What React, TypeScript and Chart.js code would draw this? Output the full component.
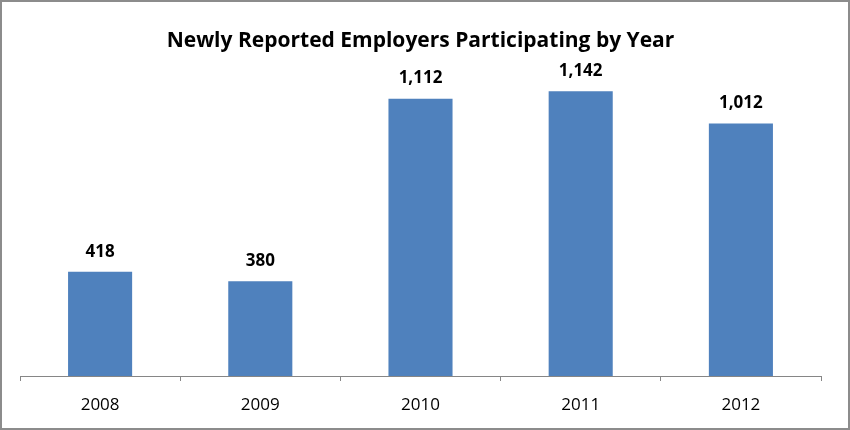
import React, { useEffect, useRef } from "react";
import { Chart, registerables } from "chart.js";

Chart.register(...registerables);

const categories = ["2008", "2009", "2010", "2011", "2012"];
const employers = [418, 380, 1112, 1142, 1012];
const chartTitle = "Newly Reported Employers Participating by Year";

const valueLabels = {
  id: "valueLabels",
  afterDatasetsDraw(chart: any) {
    const ctx = chart.ctx;
    const meta = chart.getDatasetMeta(0);
    ctx.save();
    ctx.font = "bold 17px 'Open Sans', 'Liberation Sans', sans-serif";
    ctx.fillStyle = "#000";
    ctx.textAlign = "center";
    ctx.textBaseline = "middle";
    meta.data.forEach((bar: any, i: number) => {
      const v = chart.data.datasets[0].data[i] as number;
      ctx.fillText(v.toLocaleString("en-US"), bar.x, bar.y - 20);
    });
    ctx.restore();
  },
};

export default function App() {
  const ref = useRef<HTMLCanvasElement>(null);
  useEffect(() => {
    document.body.style.margin = "0";
    const chart = new Chart(ref.current!, {
      type: "bar",
      data: {
        labels: categories,
        datasets: [
          {
            data: employers,
            backgroundColor: "#4F81BD",
            categoryPercentage: 1,
            barPercentage: 0.4,
          },
        ],
      },
      options: {
        responsive: false,
        animation: false,
        devicePixelRatio: 1,
        layout: { padding: { left: 20, right: 29, top: 0, bottom: 0 } },
        plugins: {
          legend: { display: false },
          tooltip: { enabled: false },
          title: {
            display: true,
            text: chartTitle,
            color: "#000",
            font: { family: "'Open Sans', 'Liberation Sans', sans-serif", size: 21, weight: "bold" },
            padding: { top: 28, bottom: 20 },
          },
        },
        scales: {
          x: {
            grid: {
              display: true,
              drawOnChartArea: false,
              drawTicks: true,
              tickLength: 5,
              color: "#868686",
            },
            border: { display: true, color: "#868686", width: 1 },
            ticks: {
              color: "#000",
              font: { family: "'Open Sans', 'Liberation Sans', sans-serif", size: 17, lineHeight: 1 },
              padding: 16,
            },
          },
          y: {
            display: false,
            min: 0,
            max: 1214,
          },
        },
      },
      plugins: [valueLabels],
    });
    return () => chart.destroy();
  }, []);
  return (
    <div style={{ position: "relative", width: 850, height: 430 }}>
      <canvas ref={ref} width={850} height={430} style={{ position: "absolute", left: 0, top: 0 }} />
      <div
        style={{
          position: "absolute",
          left: 0,
          top: 0,
          width: 850,
          height: 430,
          boxSizing: "border-box",
          border: "2px solid #8c8c8c",
          pointerEvents: "none",
        }}
      />
    </div>
  );
}
